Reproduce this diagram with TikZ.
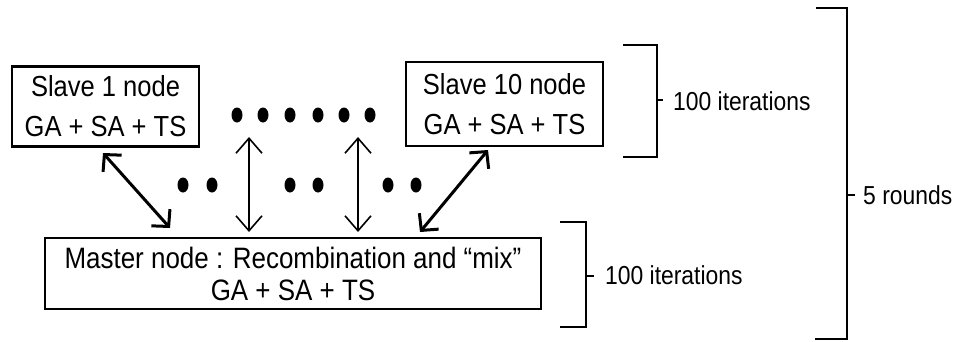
\documentclass[tikz,border=0pt]{standalone}
\usepackage{fontspec}
\setmainfont[FakeStretch=0.88]{Liberation Sans}
\usetikzlibrary{arrows.meta}
\begin{document}
\begin{tikzpicture}[x=1pt,y=-1pt,
  procbox/.style={draw, line width=2.2pt, inner sep=0pt, align=center},
  slavefont/.style={font=\fontsize{29}{40}\selectfont},
  masterfont/.style={font=\fontsize{29.5}{32}\selectfont},
  lbl/.style={anchor=west, inner sep=0pt, font=\fontsize{26}{28}\selectfont},
  brk/.style={line width=2.8pt},
  thinarrow/.style={line width=1.6pt, {Straight Barb[length=15pt,width=26pt]}-{Straight Barb[length=15pt,width=26pt]}},
  boldarrow/.style={line width=3pt, {Straight Barb[length=12pt,width=25pt]}-{Straight Barb[length=12pt,width=25pt]}},
  dot/.style={fill=black}
]
\useasboundingbox (0,0) rectangle (958,341);

% boxes
\node[procbox, slavefont, minimum width=187pt, minimum height=80pt] (s1) at (105.5,106.5) {Slave 1 node\\GA + SA + TS};
\node[procbox, slavefont, minimum width=197pt, minimum height=84pt] (s10) at (504.5,104) {Slave 10 node\\GA + SA + TS};
\node[procbox, masterfont, minimum width=496pt, minimum height=71pt] (m) at (293,273.5) {Master node : Recombination and “mix”\\GA + SA + TS};

% dots
\foreach \x in {237,263,290,318,344,370} \fill[dot] (\x,115) ellipse (5.5 and 7.5);
\foreach \x in {183,212,290,318,388,416} \fill[dot] (\x,185) ellipse (5.5 and 7.5);

% arrow end points
\coordinate (l1) at (103,153);
\coordinate (l2) at (170,228);
\coordinate (v1a) at (249,137);
\coordinate (v1b) at (249,232);
\coordinate (v2a) at (358,137);
\coordinate (v2b) at (358,232);
\coordinate (r1) at (488,150);
\coordinate (r2) at (420,232);

\draw[boldarrow] (l1) -- (l2);
\draw[thinarrow] (v1a) -- (v1b);
\draw[thinarrow] (v2a) -- (v2b);
\draw[boldarrow] (r1) -- (r2);

% brackets
\coordinate (b1t) at (623,45);
\coordinate (b1b) at (623,157);
\draw[brk] (b1t) -- (657,45) -- (657,157) -- (b1b);
\draw[brk] (657,100) -- (663,100);
\node[lbl] (it1) at (673,101) {100 iterations};

\coordinate (b2t) at (560,222);
\coordinate (b2b) at (560,327);
\draw[brk] (b2t) -- (586,222) -- (586,327) -- (b2b);
\draw[brk] (586,276) -- (594,276);
\node[lbl] (it2) at (605,275) {100 iterations};

\coordinate (b3t) at (816,8);
\coordinate (b3b) at (815,339);
\draw[brk] (b3t) -- (847,8) -- (847,339) -- (b3b);
\draw[brk] (847,195) -- (855,195);
\node[lbl] (rd) at (863,195) {5 rounds};
\end{tikzpicture}
\end{document}
